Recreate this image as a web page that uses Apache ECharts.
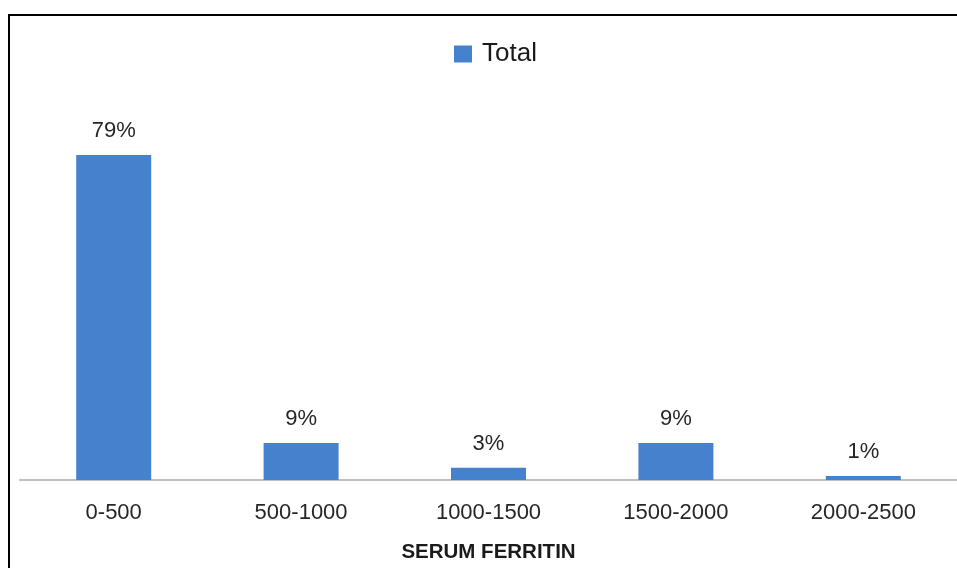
<!DOCTYPE html>
<html>
<head>
<meta charset="utf-8">
<script src="https://cdn.jsdelivr.net/npm/echarts@6/dist/echarts.min.js"></script>
<style>
  html, body { margin: 0; padding: 0; background: #ffffff; }
  #chart { width: 957px; height: 568px; }
</style>
</head>
<body>
<div id="chart"></div>
<script>
// Serum ferritin ranges and share of patients in each (%)
const categories = ['0-500', '500-1000', '1000-1500', '1500-2000', '2000-2500'];
const totalValues = [79, 9, 3, 9, 1];
const seriesName = 'Total';
const axisTitle = 'SERUM FERRITIN';

const FONT = '"Liberation Sans", Arial, sans-serif';
const chart = echarts.init(document.getElementById('chart'), null, { renderer: 'canvas' });

chart.setOption({
  backgroundColor: '#ffffff',
  animation: false,
  legend: {
    data: [seriesName],
    left: 454,
    top: 41,
    padding: 0,
    itemWidth: 18,
    itemHeight: 17,
    icon: 'rect',
    textStyle: { fontFamily: FONT, fontSize: 26, color: '#1a1a1a', padding: [0, 0, 0, 5] }
  },
  grid: { left: 20, top: 151, width: 944, bottom: 85, containLabel: false },
  xAxis: {
    type: 'category',
    data: categories,
    axisLine: { show: true, lineStyle: { color: '#bfbfbf', width: 2 } },
    axisTick: { show: false },
    axisLabel: { fontFamily: FONT, fontSize: 22, color: '#262626', margin: 22 },
    name: axisTitle,
    nameLocation: 'middle',
    nameGap: 62,
    nameTextStyle: { fontFamily: FONT, fontSize: 20.5, fontWeight: 'bold', color: '#1a1a1a' }
  },
  yAxis: {
    type: 'value',
    min: 0,
    max: 80,
    show: false,
    splitLine: { show: false }
  },
  series: [{
    name: seriesName,
    type: 'bar',
    data: totalValues,
    barWidth: 75,
    itemStyle: { color: '#4681cd' },
    label: {
      show: true,
      position: 'top',
      distance: 13,
      formatter: p => p.value + '%',
      fontFamily: FONT,
      fontSize: 22,
      color: '#262626'
    }
  }],
  graphic: [{
    type: 'polyline',
    shape: { points: [[9, 568], [9, 15], [957, 15]] },
    style: { stroke: '#000000', lineWidth: 2, fill: null },
    z: 100
  }]
});
</script>
</body>
</html>
